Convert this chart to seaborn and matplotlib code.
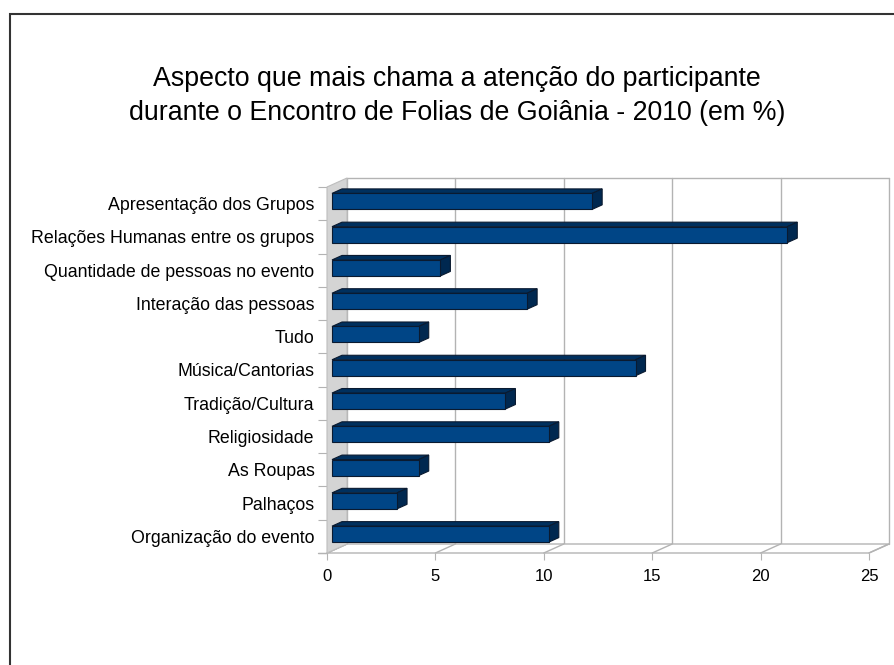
import matplotlib
matplotlib.use("Agg")
import matplotlib.pyplot as plt
import seaborn as sns
import pandas as pd
import numpy as np
from matplotlib.patches import Polygon, Rectangle
from matplotlib.transforms import IdentityTransform, offset_copy
from matplotlib.lines import Line2D

categories = [
    "Apresentação dos Grupos",
    "Relações Humanas entre os grupos",
    "Quantidade de pessoas no evento",
    "Interação das pessoas",
    "Tudo",
    "Música/Cantorias",
    "Tradição/Cultura",
    "Religiosidade",
    "As Roupas",
    "Palhaços",
    "Organização do evento",
]
values = [12, 21, 5, 9, 4, 14, 8, 10, 4, 3, 10]
x_ticks = [0, 5, 10, 15, 20, 25]
title = "Aspecto que mais chama a atenção do participante\ndurante o Encontro de Folias de Goiânia - 2010 (em %)"

sns.set_theme(style="white")
plt.rcParams["font.family"] = ["Liberation Sans", "DejaVu Sans"]
plt.rcParams["text.color"] = "black"
plt.rcParams["xtick.color"] = "black"
plt.rcParams["ytick.color"] = "black"

W, H = 895, 665
fig = plt.figure(figsize=(W / 100, H / 100), dpi=100)
fig.patch.set_facecolor("white")

# front plane of the 3D box in pixel coords
left_px, right_px = 327, 869
top_px, bot_px = 187, 553
ax = fig.add_axes([left_px / W, 1 - bot_px / H, (right_px - left_px) / W, (bot_px - top_px) / H])
ax.set_facecolor("none")

df = pd.DataFrame({"cat": categories, "val": values})
sns.barplot(data=df, x="val", y="cat", orient="h", color="#004586", width=0.48,
            edgecolor="#0a1a30", linewidth=0.8, saturation=1, ax=ax, zorder=5)

ax.set_xlim(0, 25)
ax.set_ylim(len(categories) - 0.5, -0.5)
for s in ax.spines.values():
    s.set_visible(False)
ax.set_xlabel("")
ax.set_ylabel("")
ax.set_xticks(x_ticks)
ax.set_xticklabels([str(t) for t in x_ticks], fontsize=12, color="black")
ax.tick_params(axis="x", direction="out", length=5, width=0.8, color="#b3b3b3", pad=6.5, bottom=True)
ax.set_yticks(range(len(categories)))
ax.set_yticklabels(categories, fontsize=12.8, color="black")
ax.tick_params(axis="y", which="major", length=0, pad=9)
ax.set_yticks(np.arange(-0.5, len(categories), 1.0), minor=True)
ax.tick_params(axis="y", which="minor", direction="out", length=6.5, width=0.8, color="#b3b3b3", left=True)
ax.grid(False)

DX, DY = 20, 9  # depth offset in pixels (matplotlib y up)
fig.canvas.draw()
T = ax.transData


def d2p(x, y, depth=0.0):
    px, py = T.transform((x, y))
    return (px + DX * depth, py + DY * depth)


ident = IdentityTransform()
grid_c = "#b3b3b3"
ymin_d, ymax_d = -0.5, len(categories) - 0.5


def add_poly(pts, z, **kw):
    p = Polygon(pts, closed=True, transform=ident, zorder=z, clip_on=False, **kw)
    ax.add_artist(p)


def add_line(a, b, z=1, color=grid_c, lw=1):
    ln = Line2D([a[0], b[0]], [a[1], b[1]], color=color, lw=lw, transform=ident, zorder=z, clip_on=False)
    ax.add_artist(ln)


# back wall
add_poly([d2p(0, ymin_d, 1), d2p(25, ymin_d, 1), d2p(25, ymax_d, 1), d2p(0, ymax_d, 1)], 0,
         facecolor="white", edgecolor="none")
for t in x_ticks:
    add_line(d2p(t, ymin_d, 1), d2p(t, ymax_d, 1))
add_line(d2p(0, ymin_d, 1), d2p(25, ymin_d, 1))

# floor
add_poly([d2p(0, ymax_d, 0), d2p(25, ymax_d, 0), d2p(25, ymax_d, 1), d2p(0, ymax_d, 1)], 1,
         facecolor="white", edgecolor=grid_c, lw=1)
for t in x_ticks:
    add_line(d2p(t, ymax_d, 0), d2p(t, ymax_d, 1), z=1.5)
a = d2p(0, ymax_d, 0)
add_line((a[0] - 9, a[1]), a, z=1.5)

# side wall
add_poly([d2p(0, ymin_d, 0), d2p(0, ymin_d, 1), d2p(0, ymax_d, 1), d2p(0, ymax_d, 0)], 2,
         facecolor="#d4d4d4", edgecolor="#bdbdbd", lw=0.8)

# bars: move into middle depth and add 3D faces
d0, d1 = 0.25, 0.75
bar_off = offset_copy(T, fig=fig, x=DX * d0, y=DY * d0, units="dots")
for p in list(ax.patches):
    if not isinstance(p, Rectangle):
        continue
    x, y, w, h = p.get_x(), p.get_y(), p.get_width(), p.get_height()
    p.set_transform(bar_off)
    p.set_zorder(7)
    p.set_clip_on(False)
    ytop = min(y, y + h)  # top on screen (inverted axis)
    ybot = max(y, y + h)
    add_poly([d2p(x, ytop, d0), d2p(x + w, ytop, d0), d2p(x + w, ytop, d1), d2p(x, ytop, d1)], 6,
             facecolor="#00305e", edgecolor="#0a1a30", lw=0.8)
    add_poly([d2p(x + w, ytop, d0), d2p(x + w, ytop, d1), d2p(x + w, ybot, d1), d2p(x + w, ybot, d0)], 6,
             facecolor="#002850", edgecolor="#0a1a30", lw=0.8)

# title
fig.text(457 / W, 1 - 96 / H, title, ha="center", va="center", fontsize=19.3, linespacing=1.4,
         color="black")

# outer frame
fig.add_artist(Rectangle((10 / W, -0.1), 1.2, 1 - 14 / H + 0.1, transform=fig.transFigure,
                         facecolor="none", edgecolor="#333333", lw=1.5, zorder=0))

fig.savefig("out.png", dpi=100)
